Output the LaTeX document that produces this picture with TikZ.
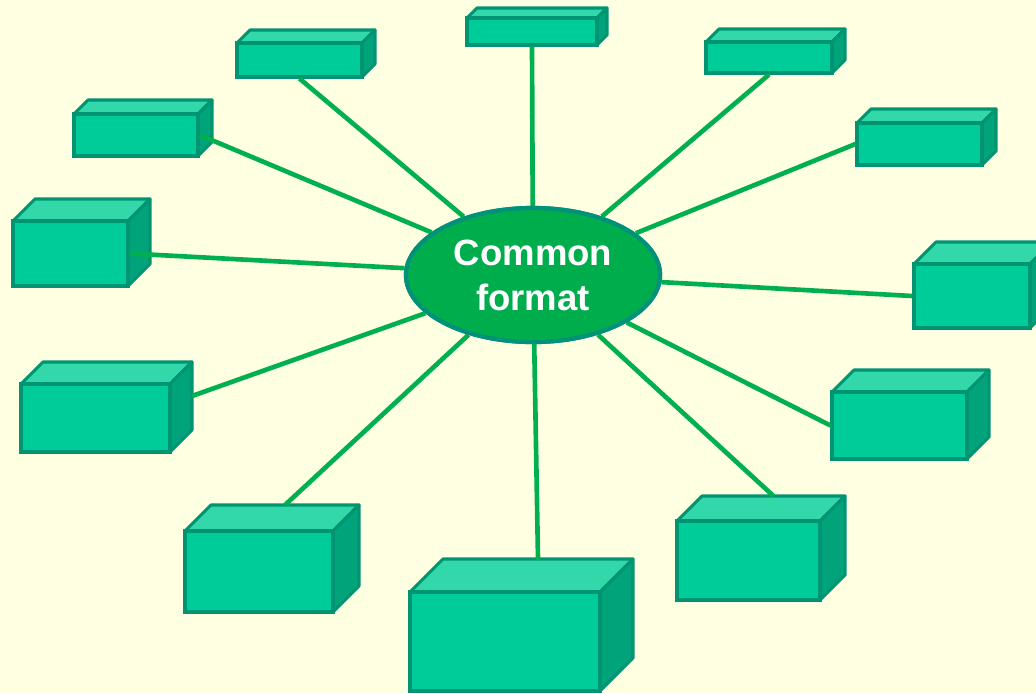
\documentclass[tikz,border=0pt]{standalone}
\usepackage{fontspec}
\setmainfont{Liberation Sans}
\usetikzlibrary{fit,calc,shapes.geometric}

\definecolor{paper}{HTML}{FFFFE1}
\definecolor{boxfront}{HTML}{00CC99}
\definecolor{boxtop}{HTML}{33D8AA}
\definecolor{boxside}{HTML}{00A37A}
\definecolor{boxedge}{HTML}{009472}
\definecolor{spoke}{HTML}{00B050}
\definecolor{hubfill}{HTML}{00AD4C}
\definecolor{hubedge}{HTML}{00917A}

% name, x1, y1, x2, y2, depth (pixel units)
\newcommand{\blockbox}[6]{%
  \filldraw[topface] (#2,#3) -- ++(#6,-#6) -- ({#4+#6},{#3-#6}) -- (#4,#3) -- cycle;
  \filldraw[sideface] (#4,#3) -- ++(#6,-#6) -- ({#4+#6},{#5-#6}) -- (#4,#5) -- cycle;
  \node[frontface, fit={(#2,#3) (#4,#5)}] (#1) {};
  \coordinate (#1-top) at ({(#2+#4)/2+#6},{#3-#6});
  \coordinate (#1-side) at ({#4+#6},{(#3+#5)/2-#6});
}

\begin{document}
\begin{tikzpicture}[x=0.025cm, y=-0.025cm,
  topface/.style={fill=boxtop, draw=boxedge, line width=2.2pt, line join=round},
  sideface/.style={fill=boxside, draw=boxedge, line width=2.2pt, line join=round},
  frontface/.style={rectangle, fill=boxfront, draw=boxedge, line width=2.2pt, inner sep=0pt},
  spokeline/.style={draw=spoke, line width=3.3pt},
  hub/.style={ellipse, fill=hubfill, draw=hubedge, line width=3pt, minimum width=6.35cm, minimum height=3.35cm},
  hubtext/.style={align=center, text=white, font=\fontsize{26}{32}\selectfont\bfseries}]
\fill[paper] (0,0) rectangle (1036,693);
\useasboundingbox (0,0) rectangle (1036,693);

\blockbox{b1}{467}{18}{597}{45}{10}
\blockbox{b2}{237}{43}{362}{77}{13}
\blockbox{b3}{74}{114}{198}{156}{14}
\blockbox{b4}{13}{221}{128}{286}{22}
\blockbox{b5}{21}{384}{170}{452}{22}
\blockbox{b6}{185}{531}{333}{612}{26}
\blockbox{b7}{410}{592}{600}{691}{33}
\blockbox{b8}{677}{521}{820}{600}{25}
\blockbox{b9}{832}{392}{967}{459}{22}
\blockbox{b10}{914}{264}{1030}{328}{22}
\blockbox{b11}{857}{123}{982}{165}{14}
\blockbox{b12}{706}{42}{832}{73}{13}

\path (533,275) node[hub] (fmt) {};

\draw[spokeline] (fmt) -- (b1.south);
\draw[spokeline] (fmt) -- (b2.south);
\draw[spokeline] (fmt) -- (b3.east);
\draw[spokeline] (fmt) -- (b4.east);
\draw[spokeline] (fmt) -- (b5-side);
\draw[spokeline] (fmt) -- (b6-top);
\draw[spokeline] (fmt) -- (b7-top);
\draw[spokeline] (fmt) -- (b8-top);
\draw[spokeline] (fmt) -- (b9.west);
\draw[spokeline] (fmt) -- (b10.west);
\draw[spokeline] (fmt) -- (b11.west);
\draw[spokeline] (fmt) -- (b12.south);

% hub drawn again on top of the spokes
\path (533,275) node[hub, hubtext] (fmtlabel) {Common\\format};
\end{tikzpicture}
\end{document}
